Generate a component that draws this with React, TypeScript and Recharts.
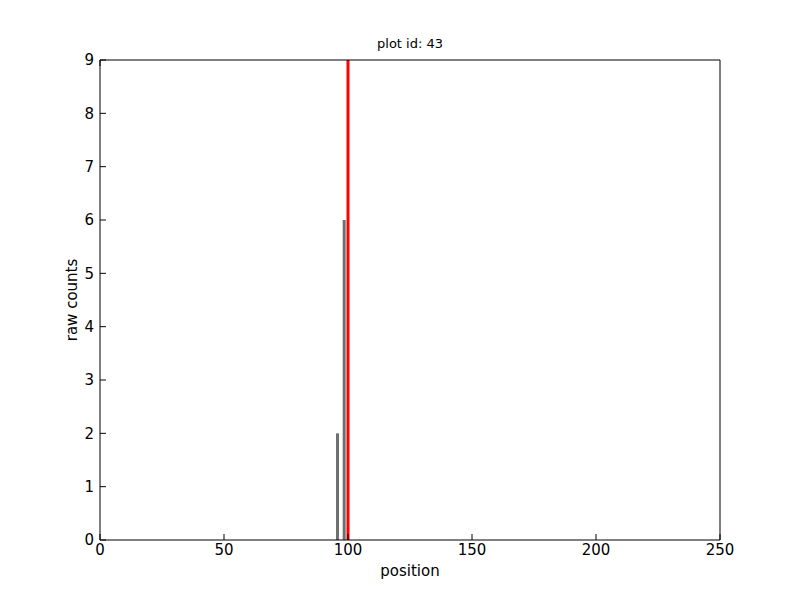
import React from 'react';
import { ComposedChart, Bar, XAxis, YAxis, ReferenceLine } from 'recharts';

// histogram of read positions
const positions = [95.7, 98.4];
const counts = [2, 6];
const markerPosition = 100;

const xTicks = [0, 50, 100, 150, 200, 250];
const yTicks = [0, 1, 2, 3, 4, 5, 6, 7, 8, 9];

const chartData = positions.map((p, i) => ({ pos: p, count: counts[i] }));

const font = 'DejaVu Sans, sans-serif';
const blank = () => '';

const App: React.FC = () => {
  return (
    <div style={{ position: 'absolute', left: 0, top: 0, width: 800, height: 600, background: '#fff', fontFamily: font }}>
      <ComposedChart
        width={800}
        height={600}
        data={chartData}
        margin={{ top: 59, right: 79, left: 60, bottom: 30 }}
      >
        <XAxis
          xAxisId="b"
          dataKey="pos"
          type="number"
          domain={[0, 250]}
          ticks={xTicks}
          height={30}
          stroke="#000"
          tickSize={-6}
          tickMargin={10}
          tick={{ fill: '#000', fontSize: 15, fontFamily: font }}
          allowDataOverflow
        />
        <XAxis
          xAxisId="t"
          orientation="top"
          type="number"
          domain={[0, 250]}
          ticks={xTicks}
          height={1}
          stroke="#000"
          tickSize={-6}
          tickFormatter={blank}
        />
        <YAxis
          yAxisId="l"
          type="number"
          domain={[0, 9]}
          ticks={yTicks}
          width={40}
          stroke="#000"
          tickSize={-6}
          tickMargin={12}
          tick={{ fill: '#000', fontSize: 15, fontFamily: font }}
          allowDataOverflow
        />
        <YAxis
          yAxisId="r"
          orientation="right"
          type="number"
          domain={[0, 9]}
          ticks={yTicks}
          width={1}
          stroke="#000"
          tickSize={-6}
          tickFormatter={blank}
        />
        <Bar
          xAxisId="b"
          yAxisId="l"
          dataKey="count"
          fill="#707070"
          barSize={3}
          isAnimationActive={false}
        />
        <ReferenceLine xAxisId="b" yAxisId="l" x={markerPosition} stroke="#ff0000" strokeWidth={3} />
      </ComposedChart>
      <div style={{ position: 'absolute', left: 310, width: 200, top: 36, textAlign: 'center', fontSize: 13 }}>
        plot id: 43
      </div>
      <div style={{ position: 'absolute', left: 310, width: 200, top: 562, textAlign: 'center', fontSize: 15 }}>
        position
      </div>
      <div
        style={{
          position: 'absolute',
          left: -28,
          top: 291,
          width: 200,
          textAlign: 'center',
          fontSize: 15,
          transform: 'rotate(-90deg)',
        }}
      >
        raw counts
      </div>
    </div>
  );
};

export default App;
